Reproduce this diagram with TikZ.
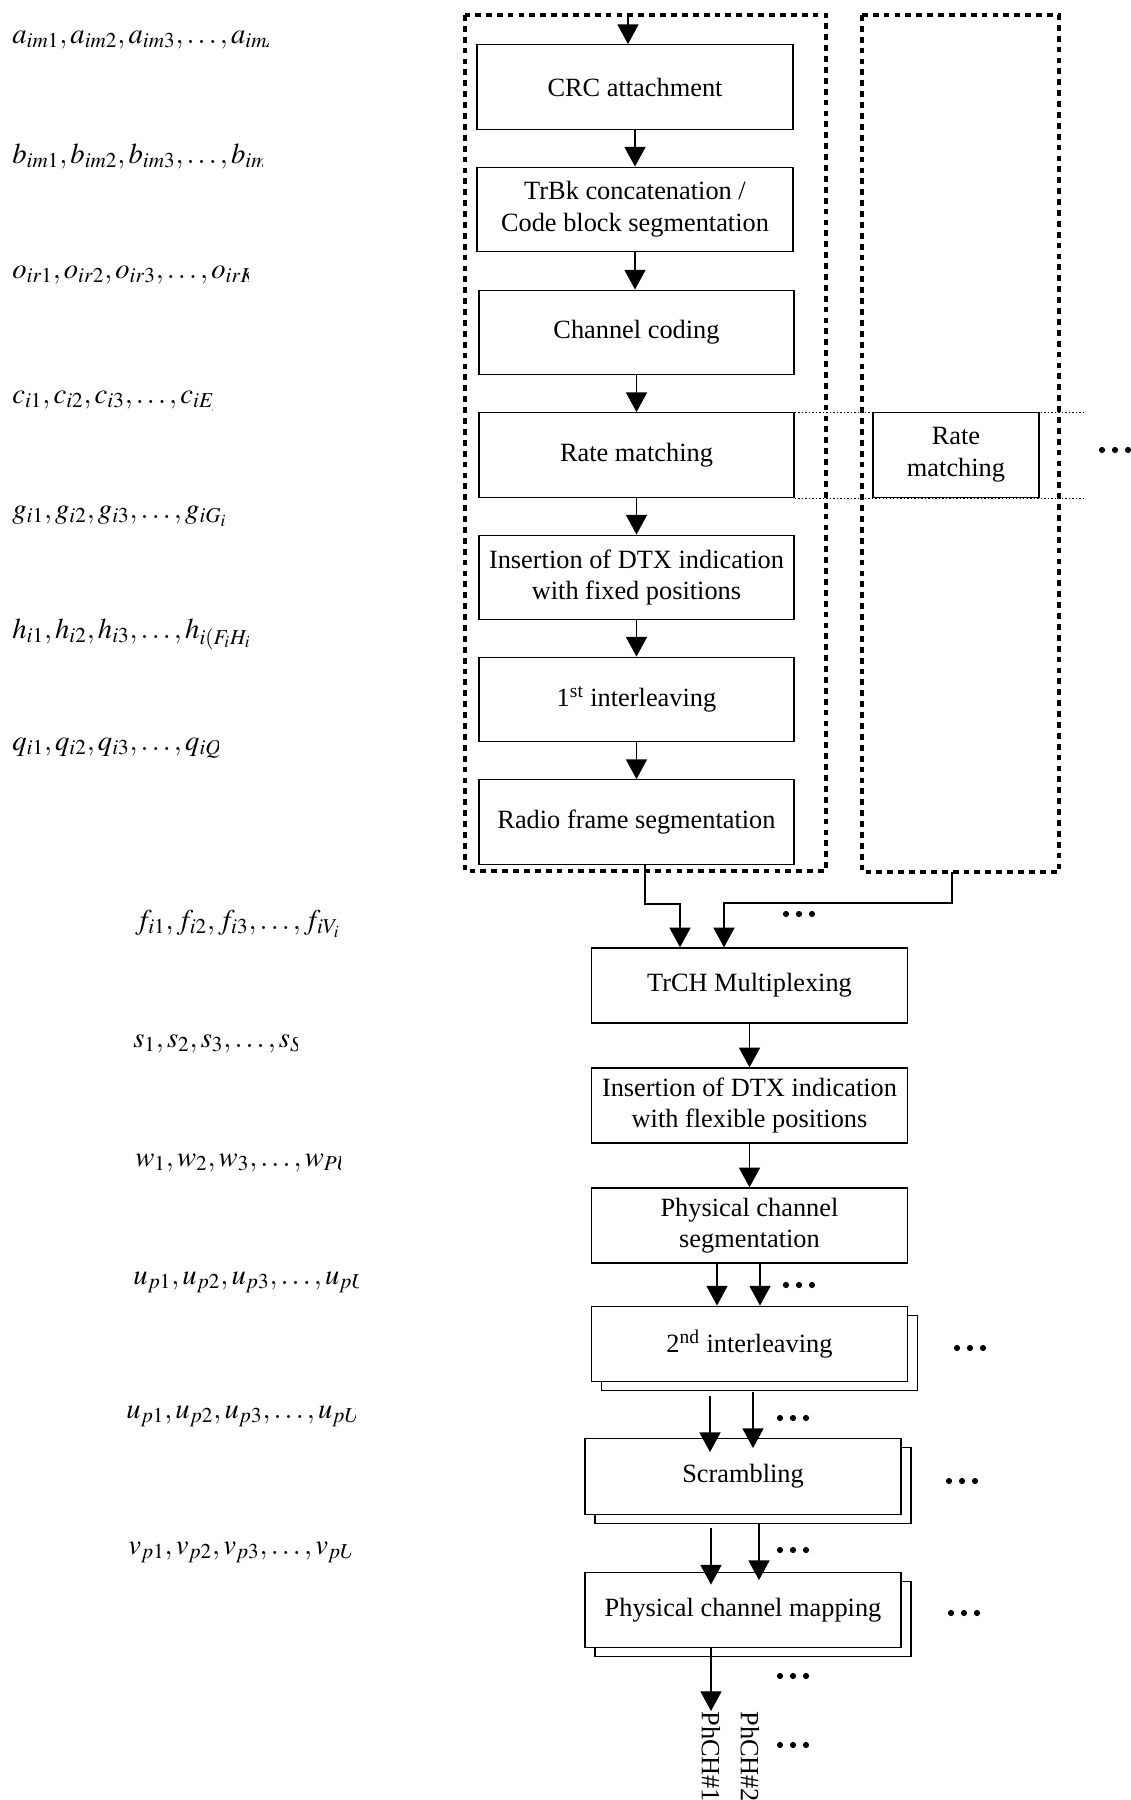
\documentclass[tikz,border=0pt]{standalone}
\usepackage{mathptmx}
\usepackage{fontspec}
\setmainfont{Liberation Serif}
\usetikzlibrary{arrows.meta, positioning, shadows}

\begin{document}
\begin{tikzpicture}[
        x=0.02cm, y=-0.02cm,
        blk/.style={draw, line width=0.8pt, fill=white, inner sep=0pt, align=center,
            minimum width=6.32cm, minimum height=1.69cm,
            font=\fontsize{15}{18}\selectfont},
        stack/.style={blk, minimum height=1.51cm,
            copy shadow={shadow xshift=0.2cm, shadow yshift=-0.18cm}},
        frame/.style={line width=2.6pt, dash pattern=on 3.3pt off 2.9pt},
        guide/.style={line width=0.5pt, dash pattern=on 0.8pt off 1.2pt},
        flow/.style={->, line width=0.7pt},
        seq/.style={anchor=base west, inner sep=0pt, font=\fontsize{16.3}{19}\selectfont},
        chan/.style={rotate=-90, anchor=west, inner sep=0pt, font=\fontsize{15}{18}\selectfont},
        >={Triangle[length=11.2pt, width=12pt]}
    ]
    \useasboundingbox (0,0) rectangle (1131,1800);

    % per-TrCH chains
    \draw[frame] (465,15) rectangle (826,871);
    \draw[frame] (862,15) rectangle (1059,872);
    \coordinate (fin) at (628,15);
    \coordinate (rfbot) at (952,872);
    \coordinate (ext) at (1086,0);

    \node[blk] (crc) at (635,87) {CRC attachment};
    \node[blk] (trbk) at (635,209.5) {TrBk concatenation /\\Code block segmentation};
    \node[blk, minimum width=6.3cm] (chcod) at (636.5,332.5) {Channel coding};
    \node[blk, minimum width=6.3cm] (rm) at (636.5,455) {Rate matching};
    \node[blk, minimum width=6.3cm] (dtxfix) at (636.5,577.5) {Insertion of DTX indication\\with fixed positions};
    \node[blk, minimum width=6.3cm] (ilv1) at (636.5,699.5) {1\textsuperscript{st} interleaving};
    \node[blk, minimum width=6.3cm] (rfseg) at (636.5,822) {Radio frame segmentation};
    \node[blk, minimum width=3.32cm] (rmb) at (956,455) {Rate\\matching};

    \draw[guide] (rm.north east) -- (rm.north east -| ext);
    \draw[guide] (rm.south east) -- (rm.south east -| ext);

    % common part
    \node[blk, minimum height=1.5cm] (mux) at (749.5,985.5) {TrCH Multiplexing};
    \node[blk, minimum height=1.5cm] (dtxflex) at (749.5,1105.5) {Insertion of DTX indication\\with flexible positions};
    \node[blk, minimum height=1.5cm] (phseg) at (749.5,1225.5) {Physical channel\\segmentation};
    \node[stack] (ilv2) at (749.5,1344) {2\textsuperscript{nd} interleaving};
    \node[stack] (scr) at (743,1476.5) {Scrambling};
    \node[stack] (pcm) at (743,1610) {Physical channel mapping};
    \node[chan] (ph1) at (711,1711) {PhCH\#1};
    \node[chan] (ph2) at (750,1711) {PhCH\#2};

    \draw[flow] (fin) -- (fin |- crc.north);
    \foreach \From/\To in {crc/trbk, trbk/chcod, chcod/rm, rm/dtxfix, dtxfix/ilv1, ilv1/rfseg,
            mux/dtxflex, dtxflex/phseg}
        \draw[flow] (\From.south) -- (\From.south |- \To.north);

    \draw[flow] ([xshift=0.17cm]rfseg.south) -- ++(0,39) -| ([xshift=-1.39cm]mux.north);
    \draw[flow] (rfbot) -- ++(0,31) -| ([xshift=-0.51cm]mux.north);

    \foreach \From/\To/\Dx/\Dy in {phseg/ilv2/-32.5/0, phseg/ilv2/10.5/0, ilv2/scr/-39.5/14,
            ilv2/scr/3.5/10, scr/pcm/-32/13, scr/pcm/16/8.5}
        \draw[flow] ([shift={(\Dx,\Dy)}]\From.south) -- ([shift={(\Dx,\Dy)}]\From.south |- \To.north);
    \draw[flow] (pcm.south -| ph1.west) -- (ph1.west);

    \foreach \X/\Y in {1115/450, 799/914, 799/1285, 970/1348, 793/1418, 962/1481,
            793/1550, 964/1613, 793/1676, 793/1745}
        \foreach \K in {-1,0,1}
            \fill (\X+\K*13,\Y) circle[radius=3.1];

    % bit sequences, cut off as in the source
    \foreach \Name/\X/\Y/\Cut/\Seq in {
            seqa/12/43/268/{a_{im1},a_{im2},a_{im3},\ldots,a_{imA_i}},
            seqb/12/163/262/{b_{im1},b_{im2},b_{im3},\ldots,b_{imB_i}},
            seqo/12/278/248/{o_{ir1},o_{ir2},o_{ir3},\ldots,o_{irK_i}},
            seqc/12/403/212/{c_{i1},c_{i2},c_{i3},\ldots,c_{iE_i}},
            seqg/12/518/233/{g_{i1},g_{i2},g_{i3},\ldots,g_{iG_i}},
            seqh/12/638/248/{h_{i1},h_{i2},h_{i3},\ldots,h_{i(F_iH_i)}},
            seqq/12/750/218/{q_{i1},q_{i2},q_{i3},\ldots,q_{iQ_i}},
            seqf/135/929/342/{f_{i1},f_{i2},f_{i3},\ldots,f_{iV_i}},
            seqs/133/1047/297/{s_1,s_2,s_3,\ldots,s_S},
            seqw/135/1166/340/{w_1,w_2,w_3,\ldots,w_{PU}},
            sequ/133/1284/358/{u_{p1},u_{p2},u_{p3},\ldots,u_{pU}},
            seqt/126/1418/355/{u_{p1},u_{p2},u_{p3},\ldots,u_{pU}},
            seqv/128/1554/350/{v_{p1},v_{p2},v_{p3},\ldots,v_{pU}}}
    {
        \begin{scope}
            \clip (\X-10,\Y-50) rectangle (\Cut,\Y+25);
            \node[seq] (\Name) at (\X,\Y) {$\Seq$};
        \end{scope}
    }
\end{tikzpicture}
\end{document}
